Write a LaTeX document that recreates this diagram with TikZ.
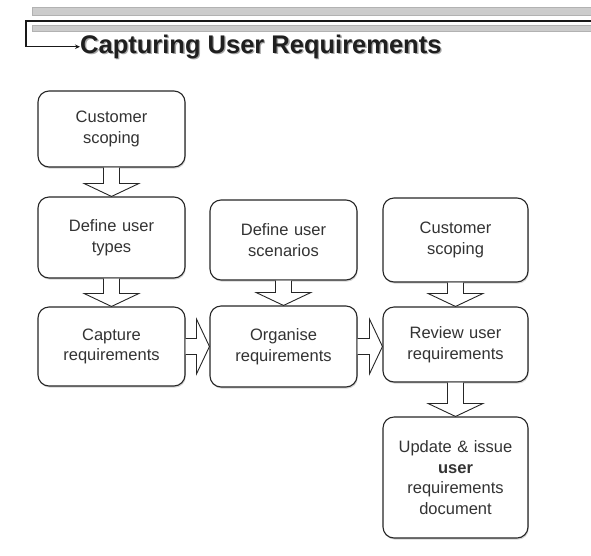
\documentclass[tikz,border=0pt]{standalone}
\usepackage{fontspec}
\setmainfont{Liberation Sans}
\usetikzlibrary{calc,shadows,arrows.meta}

\tikzset{
  stage/.style={draw=black!85, line width=1.1pt, rounded corners=11pt, fill=white,
    minimum width=147pt, text width=140pt, align=center, inner sep=0pt,
    font=\fontsize{16.5}{20.5}\selectfont, text=black!80,
    drop shadow={opacity=0.35, shadow xshift=0.8pt, shadow yshift=-1.6pt}},
  blockarrow/.style={draw=black!85, line width=0.9pt, fill=white, line join=miter},
  headbar/.style={fill=black!20, draw=black!30, line width=0.6pt},
  leader/.style={draw=black!90, line width=1.2pt, -{Stealth[length=5pt,width=4.5pt]}},
  titletext/.style={anchor=base west, inner sep=0pt, font=\bfseries\fontsize{25.5}{28}\selectfont},
}

% hollow block arrow pointing down from #1 to #2
\newcommand\downblock[2]{%
  \filldraw[blockarrow] ($(#1.south)+(-8,0)$) -- ($(#2.north)+(-8,-13)$)
    -- ($(#2.north)+(-27.5,-13)$) -- (#2.north) -- ($(#2.north)+(27.5,-13)$)
    -- ($(#2.north)+(8,-13)$) -- ($(#1.south)+(8,0)$);}
% hollow block arrow pointing right from #1 to #2
\newcommand\rightblock[2]{%
  \coordinate (tip) at (#1.east -| #2.west);
  \filldraw[blockarrow] ($(#1.east)+(0,-8)$) -- ($(tip)+(-13,-8)$)
    -- ($(tip)+(-13,-27.5)$) -- (tip) -- ($(tip)+(-13,27.5)$)
    -- ($(tip)+(-13,8)$) -- ($(#1.east)+(0,8)$);}

\begin{document}
\begin{tikzpicture}[x=1pt,y=-1pt]
\useasboundingbox (0,0) rectangle (591,555);

% header rules
\path[headbar] (32,7.5) rectangle (592,15);
\path[headbar] (32,25) rectangle (592,31.5);
\node[titletext, text=black!35] (titleshade) at (81.3,54.5) {Capturing User Requirements};
\node[titletext, text=black!88] (title) at (80,53.3) {Capturing User Requirements};
\coordinate (lead) at (592,21);
\draw[leader] (lead) -- (26,21) |- (title.west);

% left column
\node[stage, minimum height=76pt] (cs1) at (111.5,129) {Customer\\scoping};
\node[stage, minimum height=81pt] (ut)  at (111.5,237.5) {Define user\\types};
\node[stage, minimum height=79pt] (cap) at (111.5,346.5) {Capture\\requirements};

% middle column
\node[stage, minimum height=80pt] (sc)  at (283.5,240) {Define user\\scenarios};
\node[stage, minimum height=81pt] (org) at (283.5,346.5) {Organise\\requirements};

% right column
\node[stage, minimum width=145pt, minimum height=84pt] (cs2) at (455.5,240) {Customer\\scoping};
\node[stage, minimum width=145pt, minimum height=75pt] (rev) at (455.5,344.5) {Review user\\requirements};
\node[stage, minimum width=145pt, minimum height=121pt] (upd) at (455.5,477.5)
  {Update \& issue\\\textbf{user}\\requirements\\document};

% flow
\downblock{cs1}{ut}
\downblock{ut}{cap}
\downblock{sc}{org}
\downblock{cs2}{rev}
\downblock{rev}{upd}
\rightblock{cap}{org}
\rightblock{org}{rev}
\end{tikzpicture}
\end{document}
